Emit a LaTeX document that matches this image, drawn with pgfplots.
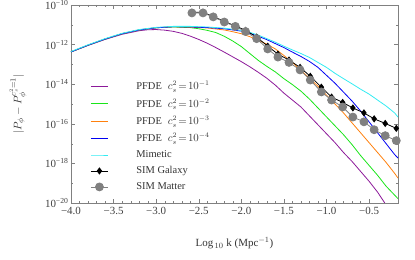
\documentclass[border=0pt]{standalone}
\usepackage{pgfplots}
\pgfplotsset{compat=1.18}
\usepackage{pgfplotstable}
\usepackage{fontspec}
\setmainfont{Liberation Serif}

\definecolor{cpurple}{rgb}{0.55,0.1,0.6}
\definecolor{cgreen}{rgb}{0.1,0.9,0.1}
\definecolor{corange}{rgb}{1,0.5,0.05}
\definecolor{cblue}{rgb}{0,0,0.95}
\definecolor{ccyan}{rgb}{0.2,0.92,0.95}
\definecolor{cgray}{rgb}{0.5,0.5,0.5}

\pgfplotstableread{
x ly
-4.0 -12.37
-3.8 -12.04
-3.6 -11.74
-3.4 -11.48
-3.2 -11.30
-3.1 -11.25
-3.0 -11.24
-2.9 -11.27
-2.8 -11.33
-2.7 -11.43
-2.6 -11.57
-2.5 -11.74
-2.4 -11.93
-2.3 -12.15
-2.2 -12.38
-2.1 -12.62
-2.0 -12.86
-1.9 -13.12
-1.8 -13.40
-1.7 -13.70
-1.6 -14.05
-1.5 -14.45
-1.4 -14.80
-1.3 -15.15
-1.2 -15.60
-1.1 -16.05
-1.0 -16.50
-0.9 -16.95
-0.8 -17.45
-0.7 -17.90
-0.6 -18.40
-0.5 -18.90
-0.4 -19.45
-0.3 -20.10
}\purple

\pgfplotstableread{
x ly
-4.0 -12.37
-3.8 -12.03
-3.6 -11.72
-3.4 -11.45
-3.2 -11.26
-3.0 -11.15
-2.8 -11.11
-2.6 -11.14
-2.5 -11.20
-2.4 -11.28
-2.3 -11.39
-2.2 -11.58
-2.1 -11.82
-2.0 -12.10
-1.9 -12.45
-1.8 -12.80
-1.7 -13.10
-1.6 -13.38
-1.5 -13.72
-1.4 -14.02
-1.3 -14.35
-1.2 -14.75
-1.1 -15.20
-1.0 -15.65
-0.9 -16.10
-0.8 -16.55
-0.7 -17.05
-0.6 -17.60
-0.5 -18.10
-0.4 -18.60
-0.3 -19.15
-0.2 -19.60
-0.16 -19.78
}\green

\pgfplotstableread{
x ly
-4.0 -12.37
-3.8 -12.03
-3.6 -11.72
-3.4 -11.45
-3.2 -11.26
-3.0 -11.15
-2.8 -11.10
-2.6 -11.12
-2.4 -11.16
-2.2 -11.26
-2.1 -11.35
-2.0 -11.45
-1.9 -11.60
-1.8 -11.78
-1.7 -11.98
-1.6 -12.22
-1.5 -12.55
-1.4 -12.90
-1.3 -13.30
-1.2 -13.70
-1.1 -14.10
-1.0 -14.55
-0.9 -15.00
-0.8 -15.45
-0.7 -15.95
-0.6 -16.45
-0.5 -16.95
-0.4 -17.45
-0.3 -17.95
-0.2 -18.50
-0.16 -18.74
}\orange

\pgfplotstableread{
x ly
-4.0 -12.37
-3.8 -12.03
-3.6 -11.72
-3.4 -11.45
-3.2 -11.26
-3.0 -11.15
-2.8 -11.10
-2.6 -11.11
-2.4 -11.14
-2.2 -11.20
-2.0 -11.32
-1.9 -11.43
-1.8 -11.58
-1.7 -11.75
-1.6 -11.95
-1.5 -12.15
-1.4 -12.38
-1.3 -12.60
-1.2 -12.85
-1.1 -13.15
-1.0 -13.55
-0.9 -13.95
-0.8 -14.40
-0.7 -14.85
-0.6 -15.35
-0.5 -15.90
-0.4 -16.45
-0.3 -17.00
-0.2 -17.55
-0.16 -17.73
}\blue

\pgfplotstableread{
x ly
-4.0 -12.35
-3.8 -12.01
-3.6 -11.70
-3.4 -11.43
-3.2 -11.24
-3.0 -11.13
-2.8 -11.08
-2.6 -11.08
-2.4 -11.11
-2.2 -11.17
-2.0 -11.28
-1.9 -11.38
-1.8 -11.52
-1.7 -11.70
-1.6 -11.88
-1.5 -12.08
-1.4 -12.27
-1.3 -12.45
-1.2 -12.65
-1.1 -12.90
-1.0 -13.15
-0.9 -13.45
-0.8 -13.72
-0.7 -13.98
-0.6 -14.25
-0.5 -14.50
-0.4 -14.80
-0.3 -15.10
-0.2 -15.45
-0.16 -15.66
}\mimetic

\pgfplotstableread{
x ly
-2.58 -10.37
-2.45 -10.37
-2.33 -10.58
-2.20 -10.83
-2.07 -11.06
-1.95 -11.28
-1.82 -11.62
-1.69 -12.08
-1.57 -12.48
-1.44 -12.78
-1.31 -13.15
-1.19 -13.60
-1.06 -14.15
-0.94 -14.65
-0.81 -14.92
-0.69 -15.20
-0.56 -15.45
-0.44 -15.75
-0.31 -15.98
-0.18 -16.23
}\galaxy

\pgfplotstableread{
x ly
-2.58 -10.40
-2.45 -10.40
-2.33 -10.60
-2.20 -10.86
-2.07 -11.08
-1.95 -11.34
-1.82 -11.70
-1.69 -12.22
-1.57 -12.63
-1.44 -12.90
-1.31 -13.28
-1.19 -13.79
-1.06 -14.39
-0.94 -14.80
-0.81 -15.15
-0.69 -15.66
-0.56 -15.90
-0.44 -16.30
-0.31 -16.60
-0.18 -16.85
}\matter

\begin{document}
\begin{tikzpicture}
\begin{axis}[
  width=327bp, height=198bp, scale only axis,
  xmin=-4, xmax=-0.16, ymin=-20, ymax=-10,
  axis line style={cgray},
  tick style={cgray},
  tick align=inside,
  xtick={-4,-3.5,...,-0.5},
  xticklabels={−4.0,−3.5,−3.0,−2.5,−2.0,−1.5,−1.0,−0.5},
  minor x tick num=4,
  ytick={-20,-18,...,-10},
  yticklabels={10\textsuperscript{−20},10\textsuperscript{−18},10\textsuperscript{−16},10\textsuperscript{−14},10\textsuperscript{−12},10\textsuperscript{−10}},
  minor ytick={-19,-17,-15,-13,-11},
  major tick length=4bp, minor tick length=2bp,
  tick label style={font=\fontsize{11}{12}\selectfont, text=black!75},
  xticklabel style={yshift=-1bp},
  yticklabel style={xshift=1bp},
  xlabel={Log$_{\,10}$ k (Mpc$^{-1}$)},
  ylabel={$|P_{\phi}-P_{\phi}^{c_s^2=1}|$},
  label style={font=\fontsize{11}{12}\selectfont, text=black!80},
  x label style={at={(axis description cs:0.5,0)}, anchor=center, yshift=-40bp},
  y label style={at={(axis description cs:0,0.5)}, anchor=center, yshift=53bp},
  legend style={at={(rel axis cs:0.05,0.635)}, anchor=north west, draw=none, fill=none,
    font=\fontsize{10.5}{11}\selectfont, row sep=3.4bp, column sep=26bp, text=black!80},
  legend cell align=left,
]
\coordinate (bl) at (rel axis cs:0,0);
\coordinate (tr) at (rel axis cs:1,1);
\addplot[cpurple, line width=0.8pt] table[x=x,y=ly] {\purple};
\addlegendentry{PFDE\hspace{6bp}$c_s^2\!=\!10^{-1}$}
\addplot[cgreen, line width=0.8pt] table[x=x,y=ly] {\green};
\addlegendentry{PFDE\hspace{6bp}$c_s^2\!=\!10^{-2}$}
\addplot[corange, line width=0.8pt] table[x=x,y=ly] {\orange};
\addlegendentry{PFDE\hspace{6bp}$c_s^2\!=\!10^{-3}$}
\addplot[cblue, line width=0.8pt] table[x=x,y=ly] {\blue};
\addlegendentry{PFDE\hspace{6bp}$c_s^2\!=\!10^{-4}$}
\addplot[ccyan, line width=0.8pt] table[x=x,y=ly] {\mimetic};
\addlegendentry{Mimetic}
\addplot[black, line width=0.8pt, mark=diamond*, mark size=3bp, mark options={fill=black}] table[x=x,y=ly] {\galaxy};
\addlegendentry{SIM Galaxy}
\addplot[cgray, line width=0.8pt, mark=*, mark size=4bp, mark options={fill=cgray, draw=cgray}] table[x=x,y=ly] {\matter};
\addlegendentry{SIM Matter}
\end{axis}
\pgfresetboundingbox
\path[use as bounding box] ([xshift=-71bp,yshift=-57bp]bl) rectangle ([xshift=17bp,yshift=5bp]tr);
\end{tikzpicture}
\end{document}
